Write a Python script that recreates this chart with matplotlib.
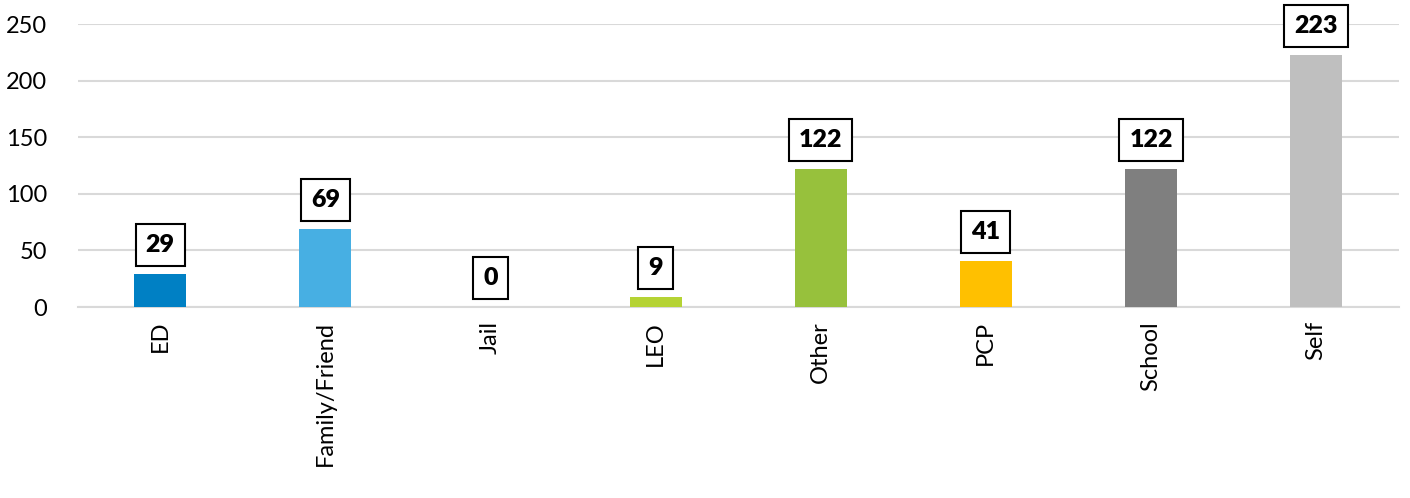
import matplotlib
matplotlib.use("Agg")
import matplotlib.pyplot as plt

categories = ["ED", "Family/Friend", "Jail", "LEO", "Other", "PCP", "School", "Self"]
values = [29, 69, 0, 9, 122, 41, 122, 223]
colors = ["#0080C4", "#47AFE3", "#1F5FA0", "#B5D334", "#97C13C", "#FFC000", "#7F7F7F", "#BFBFBF"]
yticks = [0, 50, 100, 150, 200, 250]

plt.rcParams['font.family'] = ['Lato', 'DejaVu Sans']

fig = plt.figure(figsize=(14.1, 4.98), dpi=100)
ax = fig.add_axes([0.055, 0.3835, 0.937, 0.5683])

x = list(range(len(categories)))
ax.bar(x, values, width=0.315, color=colors, zorder=3)

ax.set_xlim(-0.5, len(categories) - 0.5)
ax.set_ylim(0, 250)
ax.set_yticks(yticks)
ax.set_yticklabels([str(t) for t in yticks], fontsize=17)
ax.set_xticks(x)
ax.set_xticklabels(categories, rotation=90, fontsize=17)
ax.tick_params(axis='both', length=0, colors='black')
ax.tick_params(axis='y', pad=22)
ax.tick_params(axis='x', pad=10)
ax.yaxis.grid(True, color='#D9D9D9', linewidth=1.5, zorder=0)
for s in ['top', 'right', 'left']:
    ax.spines[s].set_visible(False)
ax.spines['bottom'].set_color('#D9D9D9')
ax.spines['bottom'].set_linewidth(1.5)

for xi, v in zip(x, values):
    ax.annotate(str(v), xy=(xi, v), xytext=(0, 13), textcoords='offset points',
                ha='center', va='bottom', fontsize=18, fontweight='heavy',
                bbox=dict(boxstyle='square,pad=0.4', facecolor='white',
                          edgecolor='black', linewidth=1.5), zorder=5,
                annotation_clip=False)

fig.savefig("out.png", dpi=100)
